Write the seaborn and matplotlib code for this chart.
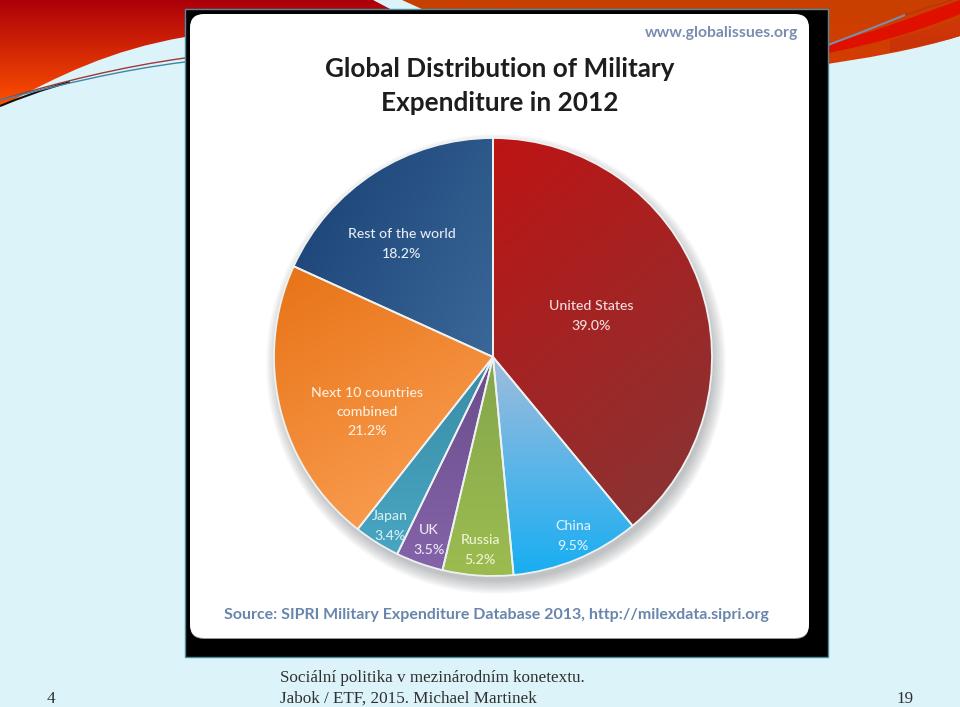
import numpy as np
import matplotlib
matplotlib.use("Agg")
import matplotlib.pyplot as plt
import seaborn as sns
from matplotlib.patches import Circle, FancyBboxPatch, PathPatch, Rectangle
from matplotlib.path import Path

countries = ["United States", "China", "Russia", "UK", "Japan", "Next 10 countries\ncombined", "Rest of the world"]
shares = [39.0, 9.5, 5.2, 3.5, 3.4, 21.2, 18.2]
value_labels = ["39.0%", "9.5%", "5.2%", "3.5%", "3.4%", "21.2%", "18.2%"]

# gradient start/end per slice
slice_colors = [
    ("#be1414", "#8c3232"),
    ("#a0bcdc", "#18aef2"),
    ("#85a64c", "#9cbc50"),
    ("#6a4c8c", "#8464a8"),
    ("#3a8ca6", "#48a6c2"),
    ("#e87418", "#f89a4c"),
    ("#20487c", "#3a6898"),
]
# label centre in pixels and gradient direction in degrees
label_px = [(591, 316), (573, 536), (480, 550), (429, 540), (390, 526), (367, 412), (402, 244)]
grad_dirs = [-50, -90, -90, -90, -90, -60, -30]

W, H = 960, 707
CX, CY, R = 493, 357, 219
BG = "#dcf3f9"

sns.set_theme(style="white")
plt.rcParams["font.family"] = ["Lato", "DejaVu Sans"]

fig = plt.figure(figsize=(W / 100, H / 100), dpi=100, facecolor=BG)

# page decoration, pixel coordinates
bg = fig.add_axes([0, 0, 1, 1])
bg.set_xlim(0, W)
bg.set_ylim(H, 0)
bg.axis("off")


def swoosh(verts, codes, top, bottom, y0, y1):
    cmap = sns.blend_palette([top, bottom], as_cmap=True)
    im = bg.imshow(np.linspace(0, 1, 256)[:, None], extent=(0, W, y1, y0), cmap=cmap, aspect="auto", zorder=1)
    p = PathPatch(Path(verts, codes), fc="none", ec="none", transform=bg.transData)
    bg.add_patch(p)
    im.set_clip_path(p)


C4, MV, LN, CL = Path.CURVE4, Path.MOVETO, Path.LINETO, Path.CLOSEPOLY
swoosh([(0, 0), (373, 0), (392, 10), (185, 37), (110, 50), (60, 75), (0, 107), (0, 0)],
       [MV, LN, LN, LN, C4, C4, C4, CL], "#ac000a", "#ff5200", 0, 107)
swoosh([(402, 0), (960, 0), (960, 10), (424, 10), (402, 0)], [MV, LN, LN, LN, CL], "#c84000", "#c84000", 0, 10)
swoosh([(800, 0), (960, 0), (960, 36), (915, 50), (870, 58), (800, 68), (800, 0)],
       [MV, LN, LN, C4, C4, C4, CL], "#c84000", "#d63c00", 0, 68)
swoosh([(800, 50), (860, 38), (910, 18), (960, 0), (960, 14), (910, 35), (860, 48), (800, 58), (800, 50)],
       [MV, C4, C4, C4, LN, C4, C4, C4, CL], "#e01000", "#e01000", 0, 60)
swoosh([(890, 40), (920, 32), (940, 25), (960, 18), (960, 36), (935, 44), (910, 48), (890, 52), (890, 40)],
       [MV, C4, C4, C4, LN, C4, C4, C4, CL], "#d23c08", "#c83008", 0, 60)

for verts, col, lw in [
    ([(0, 106), (20, 98), (40, 90), (70, 82)], "#101010", 1.5),
    ([(0, 100), (60, 82), (120, 67), (185, 58)], "#a03838", 1.0),
    ([(0, 100), (60, 85), (120, 70), (185, 62)], "#3f86a6", 1.0),
    ([(828, 45), (860, 33), (880, 25), (905, 15)], "#7d8caa", 1.5),
    ([(905, 15), (925, 8), (940, 4), (952, 0)], "#c03018", 1.0),
]:
    bg.add_patch(PathPatch(Path(verts, [MV, C4, C4, C4]), fc="none", ec=col, lw=lw, zorder=2))

# black frame and white card
bg.add_patch(Rectangle((185, 9), 643, 648, fc="black", ec="#4e8c9c", lw=1, zorder=3))
bg.add_patch(FancyBboxPatch((205, 30), 589, 594, boxstyle="round,pad=15,rounding_size=14",
                            fc="#8f969c", ec="none", zorder=4))
bg.add_patch(FancyBboxPatch((205, 29), 589, 594, boxstyle="round,pad=15,rounding_size=14",
                            fc="white", ec="none", zorder=4))

# soft shadow under the pie, falls down and to the right
for i in range(14):
    bg.add_patch(Circle((CX + 3, CY + 7), R + 11 - i, fc="#50565c", ec="none", alpha=0.026, zorder=5))

# pie, one data unit equals the radius
side = 2.5 * R
ax = fig.add_axes([(CX - side / 2) / W, 1 - (CY + side / 2) / H, side / W, side / H])
ax.patch.set_alpha(0)
wedges, _ = ax.pie(shares, startangle=90, counterclock=False, radius=1,
                   colors=[c[0] for c in slice_colors],
                   wedgeprops={"linewidth": 1.3, "edgecolor": "#eef2f2"})
ax.set_zorder(5)

# gradient fill clipped to every wedge
xx, yy = np.meshgrid(np.linspace(-1, 1, 300), np.linspace(-1, 1, 300))
for wedge, (c0, c1), deg in zip(wedges, slice_colors, grad_dirs):
    t1, t2 = np.radians(wedge.theta1), np.radians(wedge.theta2)
    th = np.linspace(t1, t2, 40)
    xs, ys = np.r_[0, np.cos(th)], np.r_[0, np.sin(th)]
    d = np.array([np.cos(np.radians(deg)), np.sin(np.radians(deg))])
    proj_pts = xs * d[0] + ys * d[1]
    g = ((xx * d[0] + yy * d[1]) - proj_pts.min()) / (proj_pts.max() - proj_pts.min())
    cmap = sns.blend_palette([c0, c1], as_cmap=True)
    im = ax.imshow(np.clip(g, 0, 1), extent=(-1, 1, -1, 1), origin="lower", cmap=cmap,
                   vmin=0, vmax=1, zorder=1)
    im.set_clip_path(wedge)
    wedge.set_facecolor("none")
    wedge.set_zorder(2)
ax.set_xlim(-1.25, 1.25)
ax.set_ylim(-1.25, 1.25)
ax.axis("off")

# overlay for text in pixel coordinates
fg = fig.add_axes([0, 0, 1, 1])
fg.set_xlim(0, W)
fg.set_ylim(H, 0)
fg.axis("off")
fg.patch.set_alpha(0)
fg.set_zorder(6)

text_colors = ["#f2dede", "#dcf2fc", "#eef4d0", "#eee6f4", "#d6eef4", "#fdeedd", "#e4ecf4"]
for name, val, (x, y), col in zip(countries, value_labels, label_px, text_colors):
    fg.text(x, y, f"{name}\n{val}", color=col, fontsize=10.2, fontweight="medium",
            ha="center", va="center", linespacing=1.7)

fg.text(500, 86, "Global Distribution of Military\nExpenditure in 2012", fontsize=18.8, fontweight="bold",
        color="#1d1d1d", ha="center", va="center", linespacing=1.5)
fg.text(722, 33, "www.globalissues.org", fontsize=11.3, fontweight="bold", color="#7a8db0", ha="center", va="center")
fg.text(496, 615, "Source: SIPRI Military Expenditure Database 2013, http://milexdata.sipri.org",
        fontsize=11.5, fontweight="bold", color="#6886ac", ha="center", va="center")

serif = ["Liberation Serif", "DejaVu Serif"]
fg.text(280, 678, "Sociální politika v mezinárodním konetextu.", fontsize=12.3, family=serif, color="#303030", va="center")
fg.text(280, 699, "Jabok / ETF, 2015. Michael Martinek", fontsize=12.3, family=serif, color="#303030", va="center")
fg.text(51, 699, "4", fontsize=12.3, family=serif, color="#303030", ha="center", va="center")
fg.text(905, 699, "19", fontsize=12.3, family=serif, color="#303030", ha="center", va="center")

fig.savefig("out.png", dpi=100, facecolor=BG)
